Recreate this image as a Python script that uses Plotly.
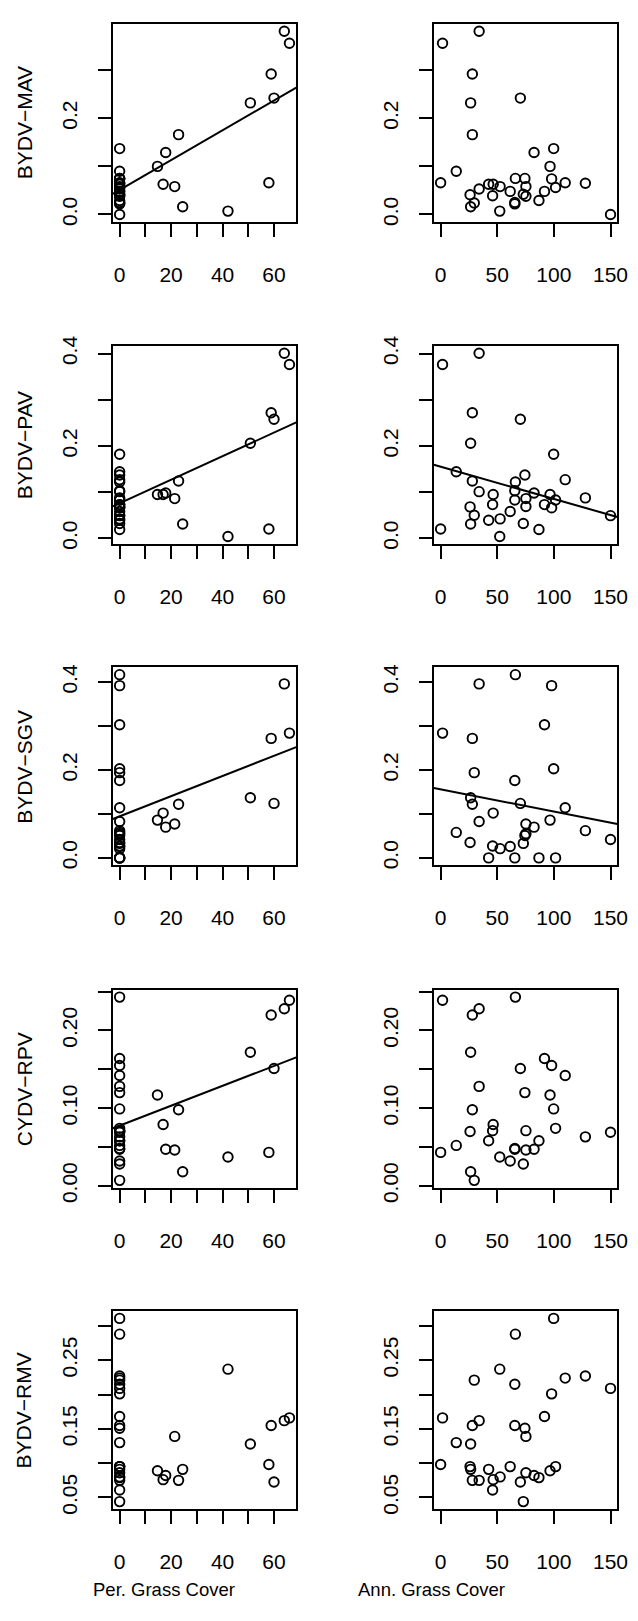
import plotly.graph_objects as go

# ---- data (one entry per site) ----
per_cover = [64, 66, 58.9, 60, 50.8, 22.9, 17.9, 14.7, 58, 16.9, 21.4, 24.5, 42.1,
             0, 0, 0, 0, 0, 0, 0, 0, 0, 0, 0, 0, 0, 0, 0, 0, 0, 0, 0, 0, 0, 0]
ann_cover = [34, 1.7, 28, 70.4, 26.5, 28, 82.5, 96.6, 0, 46.4, 75.3, 26.5, 52.2,
             13.8, 26, 29.7, 34, 42.4, 45.9, 52.5, 61.4, 65.5, 65.5, 66, 73, 74.4,
             75.3, 86.8, 91.7, 98, 99.8, 101.5, 110, 127.8, 150]
mav = [0.381, 0.356, 0.292, 0.242, 0.232, 0.166, 0.129, 0.100, 0.066, 0.063, 0.058, 0.016, 0.007,
       0.090, 0.041, 0.024, 0.053, 0.063, 0.039, 0.058, 0.048, 0.022, 0.025, 0.075, 0.042, 0.075,
       0.038, 0.029, 0.048, 0.074, 0.137, 0.056, 0.066, 0.065, 0.0]
pav = [0.401, 0.3765, 0.272, 0.258, 0.206, 0.124, 0.098, 0.095, 0.020, 0.095, 0.086, 0.031, 0.004,
       0.144, 0.068, 0.050, 0.101, 0.039, 0.073, 0.042, 0.058, 0.103, 0.083, 0.122, 0.032, 0.137,
       0.069, 0.019, 0.073, 0.066, 0.182, 0.083, 0.127, 0.0875, 0.049]
sgv = [0.396, 0.284, 0.272, 0.124, 0.137, 0.122, 0.070, 0.086, None, 0.102, 0.077, None, None,
       0.058, 0.035, 0.194, 0.083, 0.0, 0.027, 0.021, 0.026, 0.176, 0.0, 0.417, 0.033, 0.051,
       0.055, 0.0, 0.303, 0.392, 0.203, 0.0, 0.114, 0.062, 0.042]
rpv = [0.228, 0.239, 0.220, 0.151, 0.172, 0.098, 0.047, 0.117, 0.043, 0.079, 0.046, 0.018, 0.037,
       0.052, 0.070, 0.007, 0.128, 0.058, 0.071, None, 0.032, 0.048, 0.047, 0.243, 0.028, 0.120,
       0.071, 0.058, 0.164, 0.155, 0.099, 0.074, 0.142, 0.063, 0.069]
rmv = [0.162, 0.166, 0.155, 0.0725, 0.128, 0.075, 0.082, 0.089, 0.098, 0.076, 0.139, 0.091, 0.237,
       0.130, 0.095, 0.221, 0.075, 0.091, 0.061, 0.080, 0.095, 0.215, 0.155, 0.288, 0.044, 0.151,
       0.086, 0.079, 0.168, 0.201, 0.311, 0.095, 0.224, 0.227, 0.209]

virus_names = ["BYDV\u2212MAV", "BYDV\u2212PAV", "BYDV\u2212SGV", "CYDV\u2212RPV", "BYDV\u2212RMV"]
virus_values = [mav, pav, sgv, rpv, rmv]
x_titles = ["Per. Grass Cover", "Ann. Grass Cover"]
x_values = [per_cover, ann_cover]

# y-axis ticks (labelled) and unlabelled ticks
y_major = [[0.0, 0.2], [0.0, 0.2, 0.4], [0.0, 0.2, 0.4], [0.0, 0.1, 0.2], [0.05, 0.15, 0.25]]
y_major_text = [["0.0", "0.2"], ["0.0", "0.2", "0.4"], ["0.0", "0.2", "0.4"],
                ["0.00", "0.10", "0.20"], ["0.05", "0.15", "0.25"]]
y_minor = [[0.1, 0.3], [0.1, 0.3], [0.1, 0.3], [0.05, 0.15, 0.25], [0.10, 0.20, 0.30]]
x_major = [[0, 20, 40, 60], [0, 50, 100, 150]]
x_minor = [[10, 30, 50], []]

# fitted lines: (row, col) -> (intercept, slope)
fits = {
    (0, 0): (0.051, 0.0031),
    (1, 0): (0.076, 0.00255),
    (1, 1): (0.155, -0.000698),
    (2, 0): (0.0946, 0.002296),
    (2, 1): (0.156, -0.000504),
    (3, 0): (0.0775, 0.00128),
}

# ---- layout geometry ----
W, H = 638, 1621
col_px = [(106.7, 293.3), (433.3, 620.0)]
row_top = [6.0, 333.0, 659.5, 987.0, 1313.3]
box_h = 201.0
title_x_px = [159.0, 431.0]
FONT = "Liberation Sans, Arial, Helvetica, sans-serif"
FS = 21
FS_T = 18.5
LW = 2.0


def rng(vals):
    v = [a for a in vals if a is not None]
    lo, hi = min(v), max(v)
    pad = 0.04 * (hi - lo)
    return [lo - pad, hi + pad]


fig = go.Figure()
layout = dict(width=W, height=H, margin=dict(l=0, r=0, t=0, b=0),
              paper_bgcolor="white", plot_bgcolor="white", showlegend=False,
              font=dict(family=FONT, size=FS, color="black"))
annotations = []

for r in range(5):
    yv = virus_values[r]
    for c in range(2):
        k = r * 2 + c + 1
        xs = "" if k == 1 else str(k)
        xv = x_values[c]
        px, py = [], []
        for a, b in zip(xv, yv):
            if b is not None:
                px.append(a)
                py.append(b)
        xr = rng(xv)
        yr = rng(yv)
        fig.add_trace(go.Scatter(
            x=px, y=py, mode="markers", xaxis="x" + xs, yaxis="y" + xs,
            marker=dict(symbol="circle-open", size=9.5, color="black",
                        line=dict(width=1.9, color="black")),
            cliponaxis=True, hoverinfo="skip"))
        if (r, c) in fits:
            b0, b1 = fits[(r, c)]
            fig.add_trace(go.Scatter(
                x=xr, y=[b0 + b1 * xr[0], b0 + b1 * xr[1]], mode="lines",
                xaxis="x" + xs, yaxis="y" + xs,
                line=dict(color="black", width=LW), hoverinfo="skip"))
        x0, x1 = col_px[c]
        top = row_top[r]
        bot = top + box_h
        layout["xaxis" + xs] = dict(
            domain=[x0 / W, x1 / W], range=xr, anchor="y" + xs,
            showline=True, mirror=True, linecolor="black", linewidth=LW,
            showgrid=False, zeroline=False,
            ticks="outside", ticklen=13, tickwidth=LW, tickcolor="black",
            tickmode="array", tickvals=x_major[c], ticktext=[str(t) for t in x_major[c]],
            minor=dict(tickmode="array", tickvals=x_minor[c], ticks="outside",
                       ticklen=13, tickwidth=LW, tickcolor="black", showgrid=False),
            tickfont=dict(family=FONT, size=FS, color="black"),
            ticklabelstandoff=20)
        layout["yaxis" + xs] = dict(
            domain=[1 - bot / H, 1 - top / H], range=yr, anchor="x" + xs,
            showline=True, mirror=True, linecolor="black", linewidth=LW,
            showgrid=False, zeroline=False,
            ticks="outside", ticklen=13, tickwidth=LW, tickcolor="black",
            tickmode="array", tickvals=y_major[r], ticktext=y_major_text[r],
            minor=dict(tickmode="array", tickvals=y_minor[r], ticks="outside",
                       ticklen=13, tickwidth=LW, tickcolor="black", showgrid=False),
            tickangle=-90,
            tickfont=dict(family=FONT, size=FS, color="black"),
            ticklabelstandoff=12)
        if c == 0:
            annotations.append(dict(
                text=virus_names[r], textangle=-90, showarrow=False,
                xref="paper", x=16.7 / W, xanchor="center",
                yref="y" + xs + " domain", y=0.5, yanchor="middle",
                font=dict(family=FONT, size=FS, color="black")))
        if r == 4:
            annotations.append(dict(
                text=x_titles[c], showarrow=False,
                xref="paper", x=title_x_px[c] / W, xanchor="center",
                yref="paper", y=1 - 1596 / H, yanchor="middle",
                font=dict(family=FONT, size=FS_T, color="black")))

layout["annotations"] = annotations
fig.update_layout(**layout)
fig.write_html("out.html")
